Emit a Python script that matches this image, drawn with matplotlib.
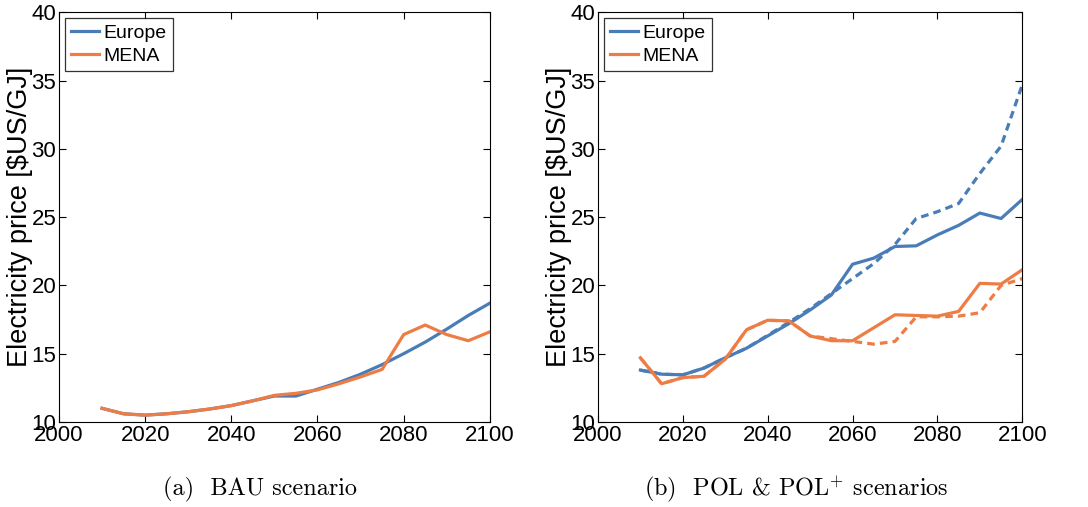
import numpy as np
import matplotlib
matplotlib.use("Agg")
import matplotlib.pyplot as plt

years = list(range(2010, 2101, 5))

# BAU scenario
bau_europe = [11.0, 10.6, 10.5, 10.6, 10.75, 10.95, 11.2, 11.55, 11.9, 11.9,
              12.4, 12.9, 13.5, 14.2, 15.0, 15.85, 16.8, 17.8, 18.7]
bau_mena = [11.0, 10.6, 10.5, 10.6, 10.75, 10.95, 11.2, 11.55, 11.95, 12.1,
            12.35, 12.8, 13.3, 13.85, 16.4, 17.1, 16.4, 15.95, 16.6]

# POL (solid) and POL+ (dashed)
pol_europe = [13.8, 13.5, 13.45, 13.95, 14.7, 15.4, 16.3, 17.2, 18.2, 19.3,
              21.55, 22.0, 22.85, 22.9, 23.7, 24.4, 25.3, 24.9, 26.3]
polp_europe = [13.8, 13.5, 13.45, 13.95, 14.7, 15.4, 16.35, 17.3, 18.3, 19.4,
               20.5, 21.6, 23.0, 24.9, 25.4, 26.0, 28.2, 30.2, 34.7]
pol_mena = [14.7, 12.8, 13.25, 13.35, 14.6, 16.75, 17.45, 17.4, 16.3, 15.95,
            15.95, 16.9, 17.85, 17.8, 17.75, 18.1, 20.15, 20.1, 21.15]
polp_mena = [14.7, 12.8, 13.25, 13.35, 14.6, 16.75, 17.45, 17.4, 16.3, 16.1,
             15.9, 15.7, 15.9, 17.7, 17.7, 17.75, 18.0, 20.0, 20.5]

blue = "#4a7db8"
orange = "#ee7d45"

plt.rcParams["font.family"] = ["Liberation Sans", "DejaVu Sans"]
plt.rcParams["mathtext.fontset"] = "cm"

fig = plt.figure(figsize=(10.88, 5.07), dpi=100)
ax1 = fig.add_axes([0.0542, 0.1677, 0.396, 0.808])
ax2 = fig.add_axes([0.5496, 0.1677, 0.390, 0.808])

ax1.plot(years, bau_europe, color=blue, lw=2.3, label="Europe")
ax1.plot(years, bau_mena, color=orange, lw=2.3, label="MENA")

ax2.plot(years, polp_europe, color=blue, lw=2.3, ls=(0, (2.4, 1.6)))
ax2.plot(years, polp_mena, color=orange, lw=2.3, ls=(0, (2.4, 1.6)))
ax2.plot(years, pol_europe, color=blue, lw=2.3, label="Europe")
ax2.plot(years, pol_mena, color=orange, lw=2.3, label="MENA")

for ax in (ax1, ax2):
    ax.set_xlim(2000, 2100)
    ax.set_ylim(10, 40)
    ax.set_xticks(range(2000, 2101, 20))
    ax.set_yticks(range(10, 41, 5))
    ax.tick_params(direction="in", top=True, right=True, labelsize=16,
                   length=5, pad=2)
    ax.set_ylabel(r"Electricity price [\$US/GJ]", fontsize=19.5, labelpad=-1)
    leg = ax.legend(loc="upper left", fontsize=14, frameon=True, fancybox=False,
                    edgecolor="black", handlelength=1.45, handletextpad=0.25,
                    borderpad=0.3, labelspacing=0.3, borderaxespad=0.3)
    leg.get_frame().set_linewidth(0.9)

fig.text(0.239, 0.022, "(a)  BAU scenario", ha="center", fontsize=17.5,
         family="cmr10")
fig.text(0.7316, 0.022, r"(b)  POL & POL$^{+}$ scenarios", ha="center",
         fontsize=17.5, family="cmr10")

fig.savefig("out.png", dpi=100)
